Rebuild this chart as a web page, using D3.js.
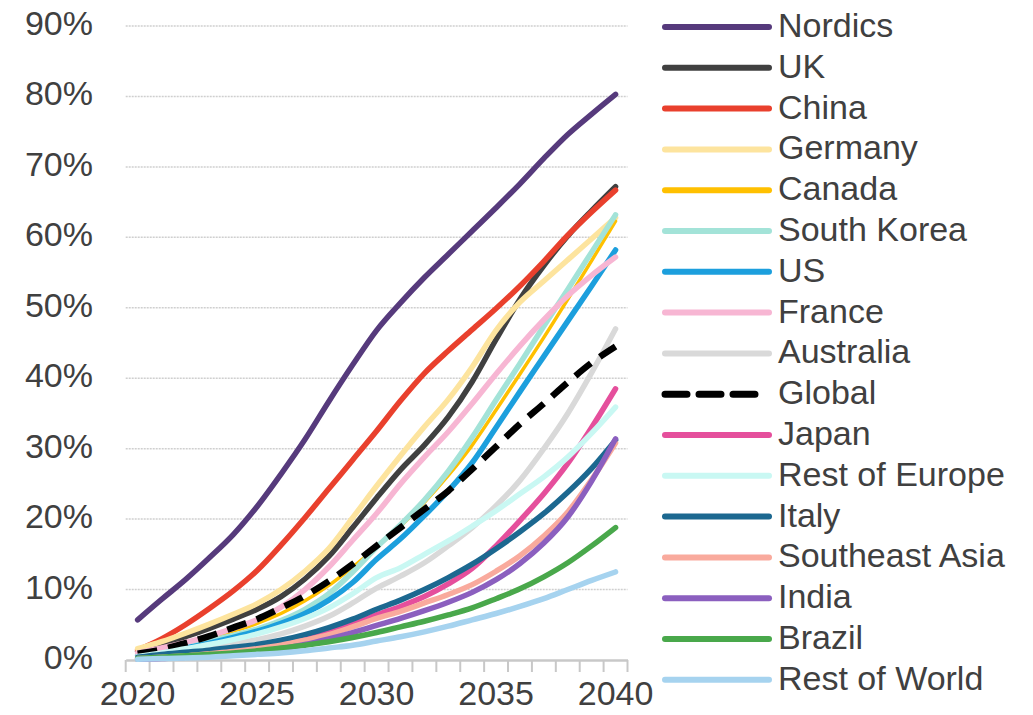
<!DOCTYPE html>
<html>
<head>
<meta charset="utf-8">
<script src="https://cdn.jsdelivr.net/npm/d3@7"></script>
<style>
  body { margin: 0; background: #fff; }
  svg { display: block; font-family: "Liberation Sans", Arial, sans-serif; }
</style>
</head>
<body>
<svg id="chart"></svg>
<script>
var years = d3.range(2020, 2041);
var xTickLabels = [2020, 2025, 2030, 2035, 2040];
var yTicks = [0, 0.1, 0.2, 0.3, 0.4, 0.5, 0.6, 0.7, 0.8, 0.9];

var seriesNames = ["Nordics", "UK", "China", "Germany", "Canada", "South Korea", "US", "France",
                   "Australia", "Global", "Japan", "Rest of Europe", "Italy", "Southeast Asia",
                   "India", "Brazil", "Rest of World"];

// share in %, 2020..2040
var nordics    = [5.7, 8.6, 11.4, 14.5, 17.8, 21.8, 26.4, 31.3, 36.7, 41.9, 46.8, 50.7, 54.3, 57.6, 60.9, 64.2, 67.6, 71.2, 74.6, 77.5, 80.3];
var uk         = [1.2, 2.2, 3.3, 4.5, 5.8, 7.2, 9.0, 11.5, 14.7, 18.8, 23.0, 27.0, 30.5, 34.5, 39.5, 45.5, 51.2, 56.0, 60.2, 63.8, 67.2];
var china      = [1.4, 3.0, 5.0, 7.3, 9.8, 12.7, 16.3, 20.2, 24.3, 28.4, 32.5, 36.8, 40.7, 43.9, 46.9, 49.9, 53.1, 56.6, 60.3, 63.6, 66.7];
var germany    = [1.6, 2.6, 3.8, 5.1, 6.5, 8.0, 10.0, 12.6, 15.8, 20.2, 24.7, 29.0, 33.1, 37.0, 41.6, 46.8, 50.8, 53.8, 56.8, 59.8, 62.8];
var canada     = [0.8, 1.4, 2.2, 3.1, 4.1, 5.2, 6.6, 8.4, 10.6, 13.2, 16.0, 19.0, 22.4, 26.2, 30.5, 35.5, 40.6, 45.8, 51.2, 56.7, 62.3];
var southKorea = [0.7, 1.2, 1.9, 2.7, 3.5, 4.4, 5.6, 7.2, 9.4, 12.5, 16.0, 19.2, 22.7, 26.8, 31.6, 36.9, 42.1, 47.4, 52.6, 57.9, 63.2];
var us         = [0.6, 1.1, 1.7, 2.4, 3.2, 4.1, 5.2, 6.6, 8.5, 11.0, 14.3, 17.2, 20.5, 24.0, 28.0, 33.0, 38.1, 43.1, 48.1, 53.1, 58.2];
var france     = [1.0, 1.7, 2.5, 3.4, 4.5, 5.7, 7.5, 10.0, 13.2, 17.0, 20.8, 25.0, 28.8, 32.4, 36.4, 40.6, 44.6, 48.3, 51.7, 54.6, 57.2];
var australia  = [0.3, 0.7, 1.2, 1.7, 2.3, 2.9, 3.7, 4.8, 6.2, 8.1, 10.2, 11.9, 13.8, 16.2, 18.8, 21.9, 25.5, 30.0, 35.0, 40.8, 47.0];
var global     = [0.9, 1.5, 2.4, 3.4, 4.6, 5.8, 7.4, 9.1, 11.2, 13.6, 16.2, 18.8, 21.4, 24.0, 27.1, 30.3, 33.5, 36.4, 39.4, 42.2, 44.5];
var japan      = [0.2, 0.4, 0.7, 1.0, 1.4, 1.9, 2.5, 3.2, 4.1, 5.1, 6.4, 7.6, 9.0, 10.8, 13.0, 16.2, 19.8, 23.6, 27.9, 33.0, 38.5];
var restEurope = [0.5, 1.0, 1.6, 2.2, 2.9, 3.7, 4.7, 5.9, 7.4, 9.4, 11.7, 13.1, 15.0, 16.9, 19.0, 21.2, 23.6, 26.0, 28.8, 32.2, 35.9];
var italy      = [0.4, 0.8, 1.1, 1.4, 1.8, 2.2, 2.8, 3.6, 4.6, 5.8, 7.2, 8.5, 10.0, 11.7, 13.6, 15.8, 18.2, 20.8, 23.8, 27.2, 31.2];
var seAsia     = [0.2, 0.4, 0.6, 0.9, 1.2, 1.6, 2.1, 2.8, 3.6, 4.7, 5.9, 6.9, 8.1, 9.3, 10.7, 12.6, 14.8, 17.6, 21.0, 25.6, 30.8];
var india      = [0.1, 0.2, 0.4, 0.6, 0.9, 1.2, 1.6, 2.2, 3.0, 3.9, 4.9, 5.9, 7.0, 8.2, 9.6, 11.4, 13.7, 16.6, 20.3, 25.4, 31.4];
var brazil     = [0.2, 0.4, 0.6, 0.8, 1.0, 1.3, 1.7, 2.1, 2.6, 3.2, 3.9, 4.7, 5.5, 6.4, 7.4, 8.7, 10.1, 11.8, 13.8, 16.2, 18.8];
var restWorld  = [0.1, 0.2, 0.3, 0.4, 0.6, 0.8, 1.0, 1.3, 1.7, 2.1, 2.7, 3.3, 4.0, 4.8, 5.7, 6.6, 7.6, 8.7, 10.0, 11.3, 12.5];

var seriesValues = [nordics, uk, china, germany, canada, southKorea, us, france, australia,
                    global, japan, restEurope, italy, seAsia, india, brazil, restWorld];

var colors = ["#563a7c", "#404040", "#e9402d", "#fde49e", "#ffc000", "#a3e3d8", "#1c9fdd", "#f7b6d3",
              "#d9d9d9", "#000000", "#e54f9c", "#c9f8f3", "#1c6890", "#f9aa9d", "#8b5fbf", "#49a84b", "#a6d3ef"];

var width = 1033, height = 715;
var svg = d3.select("#chart")
        .attr("width", width)
        .attr("height", height);

var x = d3.scaleBand()
        .domain(years)
        .range([125.7, 627.5]);
var y = d3.scaleLinear()
        .domain([0, 0.9])
        .range([660, 26]);

// gridlines
svg.append("g")
   .selectAll("line")
   .data(yTicks.slice(1))
   .join("line")
   .attr("x1", 125.7)
   .attr("x2", 627.5)
   .attr("y1", d => y(d))
   .attr("y2", d => y(d))
   .attr("stroke", "#cfcfcf")
   .attr("stroke-width", 1.5)
   .attr("stroke-dasharray", "2,1");

// y labels
svg.append("g")
   .selectAll("text")
   .data(yTicks)
   .join("text")
   .attr("x", 93)
   .attr("y", d => y(d) + 9)
   .attr("text-anchor", "end")
   .attr("font-size", 34)
   .attr("fill", "#404040")
   .text(d => d3.format(".0%")(d));

// x axis
var xAxis = d3.axisBottom(x)
        .tickValues(xTickLabels)
        .tickSize(0)
        .tickPadding(21);
var gx = svg.append("g")
        .attr("transform", "translate(0," + y(0) + ")")
        .call(xAxis);
gx.select(".domain")
  .attr("stroke", "#c8c8c8")
  .attr("stroke-width", 2.5);
gx.selectAll("text")
  .attr("font-size", 34)
  .attr("font-family", "Liberation Sans, Arial, sans-serif")
  .attr("fill", "#404040");

// category boundary ticks
var bounds = years.map(d => x(d)).concat([x(2040) + x.bandwidth()]);
svg.append("g")
   .selectAll("line")
   .data(bounds)
   .join("line")
   .attr("x1", d => d)
   .attr("x2", d => d)
   .attr("y1", y(0))
   .attr("y2", y(0) + 12)
   .attr("stroke", "#c8c8c8")
   .attr("stroke-width", 2);

var line = d3.line()
        .x((d, i) => x(years[i]) + x.bandwidth() / 2)
        .y(d => y(d / 100))
        .curve(d3.curveMonotoneX);

var plot = svg.append("g");
seriesNames.forEach(function(name, k) {
    plot.append("path")
        .datum(seriesValues[k])
        .attr("fill", "none")
        .attr("stroke", colors[k])
        .attr("stroke-width", name == "Canada" ? 3.5 : (name == "Global" ? 6.5 : 5.5))
        .attr("stroke-dasharray", name == "Global" ? "20,11" : null)
        .attr("stroke-linejoin", "round")
        .attr("stroke-linecap", name == "Global" ? "butt" : "round")
        .attr("d", line);
});

// legend
var legend = svg.append("g")
        .selectAll("g")
        .data(seriesNames)
        .join("g")
        .attr("transform", (d, i) => "translate(0," + (27 + i * 40.8) + ")");
legend.append("line")
      .attr("x1", 665)
      .attr("x2", d => d == "Global" ? 760 : 769)
      .attr("y1", 0)
      .attr("y2", 0)
      .attr("stroke", (d, i) => colors[i])
      .attr("stroke-width", d => d == "Global" ? 7 : 6)
      .attr("stroke-linecap", "round")
      .attr("stroke-dasharray", d => d == "Global" ? "22,12" : null);
legend.append("text")
      .attr("x", 778)
      .attr("y", 10)
      .attr("font-size", 34)
      .attr("fill", "#404040")
      .text(d => d);
</script>
</body>
</html>
